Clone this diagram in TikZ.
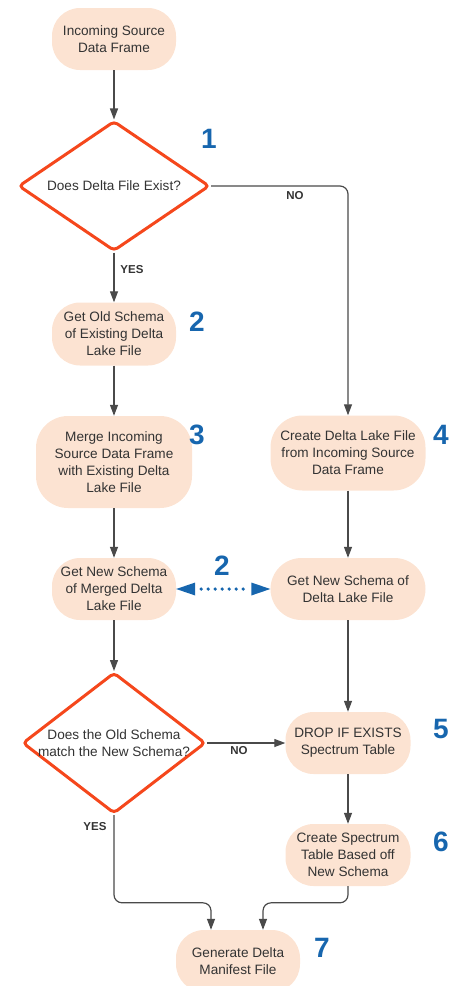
\documentclass[tikz,border=0pt]{standalone}
\usepackage{fontspec}
\setmainfont{Liberation Sans}
\usetikzlibrary{shapes.geometric,arrows.meta}

\definecolor{peach}{HTML}{FCE3D2}
\definecolor{decision}{HTML}{F5471C}
\definecolor{stepblue}{HTML}{1766AE}
\definecolor{wire}{HTML}{4A4A4A}
\definecolor{ink}{HTML}{333333}

\tikzset{
  stepbox/.style={fill=peach, rounded corners=28pt, inner sep=0pt, align=center,
    text=ink, font=\fontsize{13.6}{17}\selectfont},
  decide/.style={diamond, draw=decision, line width=3pt, rounded corners=4pt,
    inner sep=0pt, fill=white},
  qtext/.style={text=ink, font=\fontsize{13.6}{17}\selectfont, align=center},
  arr/.style={draw=wire, line width=1.2pt, -{Triangle[length=11pt,width=8pt]}},
  yesno/.style={text=ink, font=\bfseries\fontsize{11.5}{13}\selectfont},
  stepnum/.style={text=stepblue, font=\bfseries\fontsize{28}{30}\selectfont},
  link/.style={draw=stepblue, line width=3.6pt, line cap=round,
    dash pattern=on 0pt off 7pt, shorten <=25pt, shorten >=24pt},
}

\begin{document}
\begin{tikzpicture}[x=1pt, y=-1pt]
  \useasboundingbox (0,0) rectangle (449,986);

  % process steps
  \node[stepbox, minimum width=124pt, minimum height=62pt] (src) at (114,39)
    {Incoming Source\\Data Frame};
  \node[decide, minimum width=191pt, minimum height=130pt] (exists) at (114,186) {};
  \node[qtext] (existsq) at (114,186) {Does Delta File Exist?};
  \node[stepbox, minimum width=124pt, minimum height=63pt] (old) at (114,334)
    {Get Old Schema\\of Existing Delta\\Lake File};
  \node[stepbox, minimum width=156pt, minimum height=92pt, rounded corners=32pt] (merge) at (114,462)
    {Merge Incoming\\Source Data Frame\\with Existing Delta\\Lake File};
  \node[stepbox, minimum width=155pt, minimum height=75pt, rounded corners=32pt] (create) at (348,453)
    {Create Delta Lake File\\from Incoming Source\\Data Frame};
  \node[stepbox, minimum width=124pt, minimum height=62pt] (newm) at (114,589)
    {Get New Schema\\of Merged Delta\\Lake File};
  \node[stepbox, minimum width=155pt, minimum height=62pt, rounded corners=31pt] (newd) at (348,589)
    {Get New Schema of\\Delta Lake File};
  \node[decide, minimum width=183pt, minimum height=141pt] (match) at (114,743) {};
  \node[qtext] (matchq) at (114,743) {Does the Old Schema\\match the New Schema?};
  \node[stepbox, minimum width=125pt, minimum height=62pt] (drop) at (348,743)
    {DROP IF EXISTS\\Spectrum Table};
  \node[stepbox, minimum width=125pt, minimum height=62pt] (spec) at (348,855)
    {Create Spectrum\\Table Based off\\New Schema};
  \node[stepbox, minimum width=124pt, minimum height=62pt] (gen) at (238,961)
    {Generate Delta\\Manifest File};

  % step numbers
  \node[stepnum] (n1) at (209,139) {1};
  \node[stepnum] (n2a) at (197,322) {2};
  \node[stepnum] (n3) at (197,435) {3};
  \node[stepnum] (n4) at (441,435) {4};
  \node[stepnum] (n2b) at (222,566) {2};
  \node[stepnum] (n5) at (441,729) {5};
  \node[stepnum] (n6) at (441,842) {6};
  \node[stepnum] (n7) at (322,948) {7};

  % connectors
  \draw[arr] (src) -- (exists);
  \draw[arr, rounded corners=8pt] (exists.east) -| (create.north);
  \node[yesno] (no1) at (295,196) {NO};
  \draw[arr] (exists.south) -- (old.north);
  \node[yesno] (yes1) at (132,270) {YES};
  \draw[arr] (old) -- (merge);
  \draw[arr] (merge) -- (newm);
  \draw[arr] (create) -- (newd);
  \draw[arr] (newm) -- (match);
  \draw[arr] (newd) -- (drop);
  \draw[arr] (match.east) -- (match.east -| drop.west);
  \node[yesno] (no2) at (239,751) {NO};
  \draw[arr] (drop) -- (spec);
  \node[yesno] (yes2) at (95,827) {YES};
  \draw[arr, rounded corners=8pt] (match.south) |- ([xshift=-27pt,yshift=27pt]gen.north)
    -- ([xshift=-27pt]gen.north);
  \draw[arr, rounded corners=8pt] (spec.south) |- ([xshift=25pt,yshift=27pt]gen.north)
    -- ([xshift=25pt]gen.north);

  % schema comparison link
  \draw[link] (newm.east) -- (newd.west);
  \fill[stepblue] (newm.east) -- ++(19,-6.5) -- ++(0,13) -- cycle;
  \fill[stepblue] (newd.west) -- ++(-19,-6.5) -- ++(0,13) -- cycle;
\end{tikzpicture}
\end{document}
